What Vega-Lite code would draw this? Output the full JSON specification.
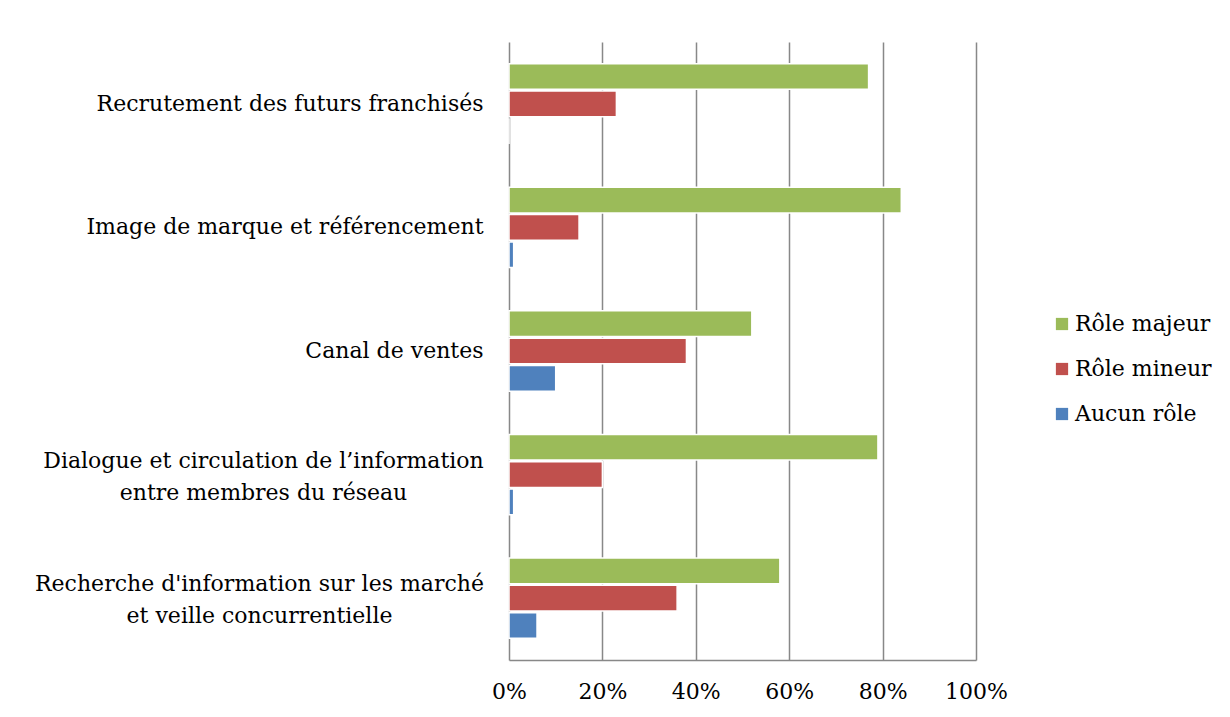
{
  "$schema": "https://vega.github.io/schema/vega-lite/v6.json",
  "autosize": "none",
  "padding": {"left": 509, "top": 42, "right": 254, "bottom": 57},
  "width": 467,
  "height": 618,
  "background": "white",
  "data": {
    "values": [
      {"fonction": "Recrutement des futurs franchisés", "role": "Rôle majeur", "part": 0.77},
      {"fonction": "Recrutement des futurs franchisés", "role": "Rôle mineur", "part": 0.23},
      {"fonction": "Recrutement des futurs franchisés", "role": "Aucun rôle", "part": 0.0},
      {"fonction": "Image de marque et référencement", "role": "Rôle majeur", "part": 0.84},
      {"fonction": "Image de marque et référencement", "role": "Rôle mineur", "part": 0.15},
      {"fonction": "Image de marque et référencement", "role": "Aucun rôle", "part": 0.01},
      {"fonction": "Canal de ventes", "role": "Rôle majeur", "part": 0.52},
      {"fonction": "Canal de ventes", "role": "Rôle mineur", "part": 0.38},
      {"fonction": "Canal de ventes", "role": "Aucun rôle", "part": 0.10},
      {"fonction": "Dialogue et circulation de l’information entre membres du réseau", "role": "Rôle majeur", "part": 0.79},
      {"fonction": "Dialogue et circulation de l’information entre membres du réseau", "role": "Rôle mineur", "part": 0.20},
      {"fonction": "Dialogue et circulation de l’information entre membres du réseau", "role": "Aucun rôle", "part": 0.01},
      {"fonction": "Recherche d'information sur les marché et veille concurrentielle", "role": "Rôle majeur", "part": 0.58},
      {"fonction": "Recherche d'information sur les marché et veille concurrentielle", "role": "Rôle mineur", "part": 0.36},
      {"fonction": "Recherche d'information sur les marché et veille concurrentielle", "role": "Aucun rôle", "part": 0.06}
    ]
  },
  "mark": {"type": "bar", "stroke": "white", "strokeWidth": 1.5},
  "encoding": {
    "y": {
      "field": "fonction",
      "type": "nominal",
      "sort": null,
      "scale": {"paddingInner": 0.35, "paddingOuter": 0.175},
      "axis": {
        "title": null,
        "domain": false,
        "ticks": false,
        "labelPadding": 26,
        "labelAlign": "right",
        "labelFont": "DejaVu Serif",
        "labelFontSize": 22,
        "labelColor": "black",
        "labelLimit": 600,
        "labelLineHeight": 32,
        "labelExpr": "datum.value == 'Dialogue et circulation de l’information entre membres du réseau' ? ['Dialogue et circulation de l’information', 'entre membres du réseau'] : datum.value == 'Recherche d\\'information sur les marché et veille concurrentielle' ? ['Recherche d\\'information sur les marché', 'et veille concurrentielle'] : datum.value",
        "encoding": {
          "labels": {
            "align": {
              "condition": {"test": "indexof(datum.value, 'Dialogue') == 0 || indexof(datum.value, 'Recherche') == 0", "value": "center"},
              "value": "right"
            },
            "dx": {
              "condition": [
                {"test": "indexof(datum.value, 'Dialogue') == 0", "value": -220},
                {"test": "indexof(datum.value, 'Recherche') == 0", "value": -224}
              ],
              "value": 0
            },
            "dy": {
              "condition": {"test": "indexof(datum.value, 'Dialogue') == 0 || indexof(datum.value, 'Recherche') == 0", "value": -14},
              "value": 0
            }
          }
        }
      }
    },
    "yOffset": {
      "field": "role",
      "type": "nominal",
      "sort": ["Rôle majeur", "Rôle mineur", "Aucun rôle"],
      "scale": {"paddingInner": 0.06, "paddingOuter": 0}
    },
    "x": {
      "field": "part",
      "type": "quantitative",
      "scale": {"domain": [0, 1]},
      "axis": {
        "title": null,
        "format": ".0%",
        "values": [0, 0.2, 0.4, 0.6, 0.8, 1],
        "grid": true,
        "gridColor": "#888888",
        "gridWidth": 1.5,
        "domainColor": "#888888",
        "domainWidth": 1.5,
        "ticks": false,
        "labelPadding": 21,
        "labelFont": "DejaVu Serif",
        "labelFontSize": 22,
        "labelColor": "black",
        "labelFlush": false
      }
    },
    "color": {
      "field": "role",
      "type": "nominal",
      "sort": ["Rôle majeur", "Rôle mineur", "Aucun rôle"],
      "scale": {
        "domain": ["Rôle majeur", "Rôle mineur", "Aucun rôle"],
        "range": ["#9BBB59", "#C0504D", "#4F81BD"]
      },
      "legend": {
        "title": null,
        "orient": "none",
        "legendX": 542,
        "legendY": 271,
        "padding": 0,
        "symbolType": "square",
        "symbolSize": 150,
        "symbolStrokeWidth": 0,
        "labelFont": "DejaVu Serif",
        "labelFontSize": 22,
        "labelColor": "black",
        "labelOffset": 2,
        "rowPadding": 23,
        "labelLimit": 300
      }
    }
  },
  "config": {"view": {"stroke": null}}
}
